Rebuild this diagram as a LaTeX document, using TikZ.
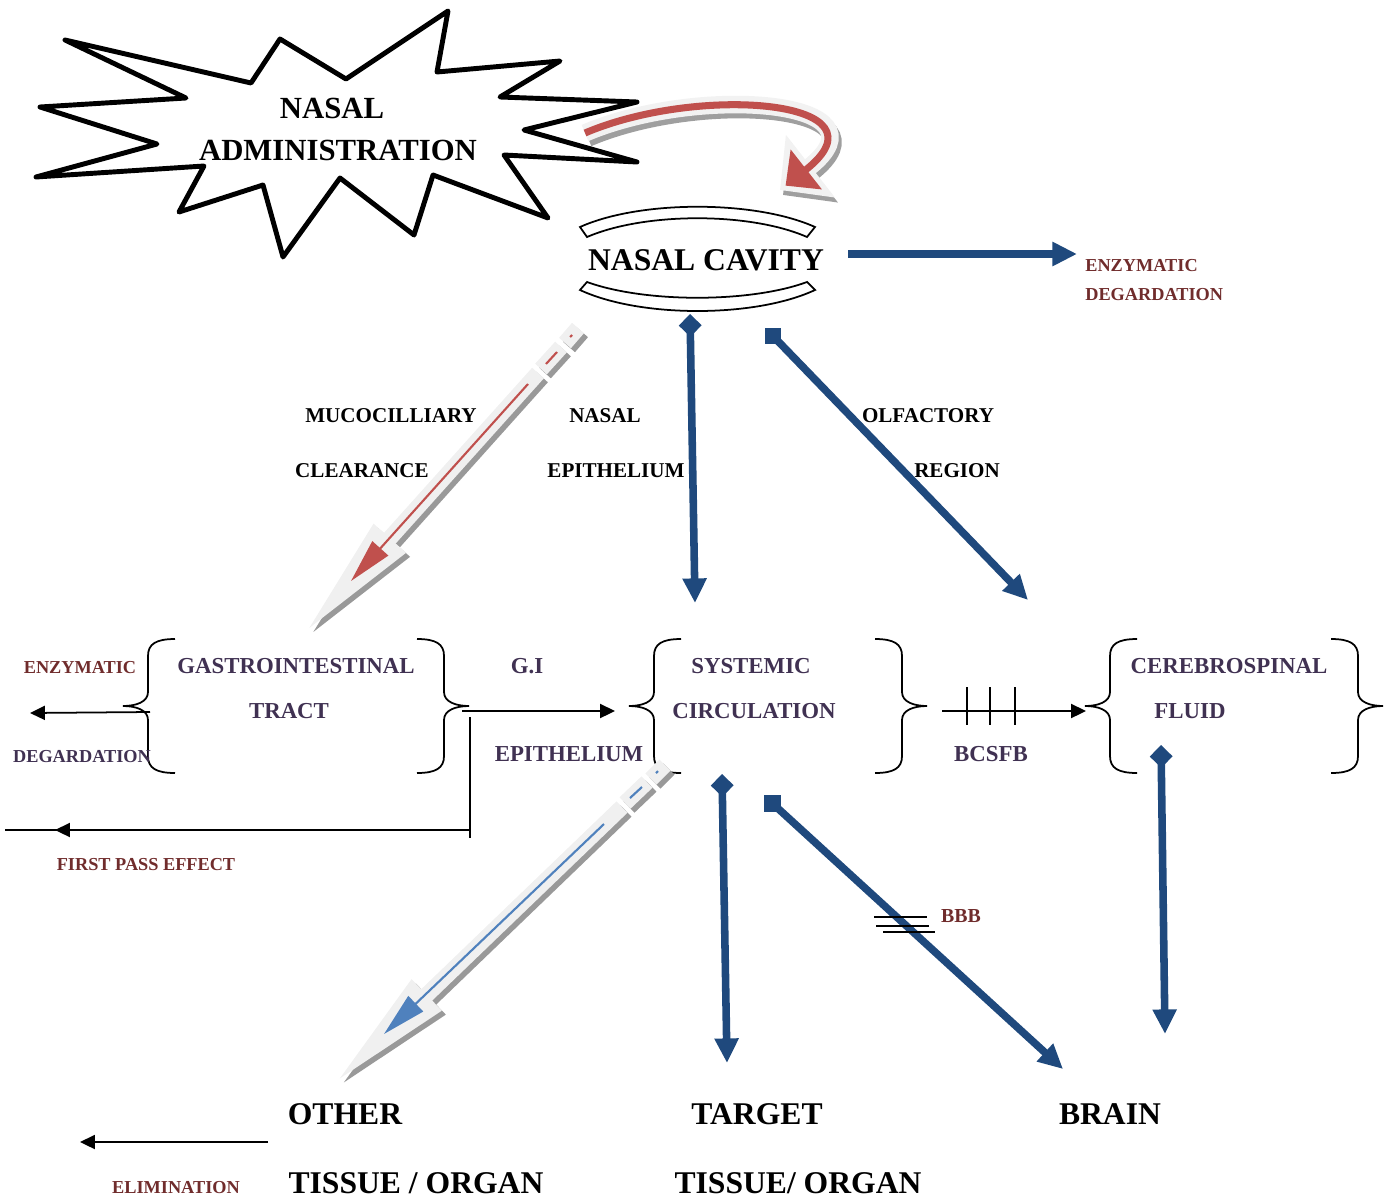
\documentclass[tikz,border=0pt]{standalone}
\usepackage{fontspec}
\setmainfont{Liberation Serif}
\usetikzlibrary{arrows.meta}

\definecolor{arrblue}{RGB}{31,73,125}
\definecolor{txtred}{RGB}{112,44,44}
\definecolor{txtpurple}{RGB}{64,49,82}
\definecolor{curvred}{RGB}{192,80,77}
\definecolor{penblue}{RGB}{79,129,189}

\tikzset{
  txt/.style={inner sep=0pt, text depth=0pt, font=\bfseries\fontsize{12}{14}\selectfont},
  bigtxt/.style={txt, font=\bfseries\fontsize{18}{21}\selectfont},
  startxt/.style={txt, font=\bfseries\fontsize{17.5}{21}\selectfont},
  boxtxt/.style={txt, text=txtpurple, font=\bfseries\fontsize{13}{15}\selectfont},
  redtxt/.style={txt, text=txtred, font=\bfseries\fontsize{10.4}{12}\selectfont},
  blu/.style={draw=arrblue, line width=4.3pt},
  blk/.style={line width=1pt},
  shade/.style={gray!80, line width=9pt},
  pencil/.style={gray!12, line width=9pt},
  bighead/.tip={Triangle[length=14pt,width=13pt]},
  smallhead/.tip={Triangle[length=8.5pt,width=8pt]},
  dtail/.tip={Diamond[length=13pt,width=13pt]},
  penhead/.tip={Triangle[length=74pt,width=22pt]},
  lbrace/.pic={\draw[blk] (27,-67) .. controls (8,-67) and (0,-62) .. (0,-50) -- (0,-14)
     .. controls (0,-4) and (-12,0) .. (-25,0) .. controls (-12,0) and (0,4) .. (0,14)
     -- (0,50) .. controls (0,62) and (8,67) .. (27,67);},
  rbrace/.pic={\draw[blk] (-27,-67) .. controls (-8,-67) and (0,-62) .. (0,-50) -- (0,-14)
     .. controls (0,-4) and (12,0) .. (25,0) .. controls (12,0) and (0,4) .. (0,14)
     -- (0,50) .. controls (0,62) and (-8,67) .. (-27,67);}
}

\begin{document}
\begin{tikzpicture}[x=0.02cm, y=-0.02cm]
\useasboundingbox (0,0) rectangle (1395,1200);

        % curved arrow
        \draw[gray!75, line width=10pt, -{Triangle[length=22pt,width=44pt]}, shift={(3,5)}]
                (585,133) .. controls (700,84) and (895,100) .. (780,190);
        \draw[gray!10, line width=10pt, -{Triangle[length=22pt,width=44pt]}]
                (585,133) .. controls (700,84) and (895,100) .. (780,190);
        \draw[curvred, line width=4pt, -{Triangle[length=15pt,width=28pt]}, shorten >=4pt]
                (585,133) .. controls (700,84) and (895,100) .. (780,190);

        % star
        \draw[line width=2.8pt, line join=round, fill=white] (65,40) -- (251,83) -- (280,39) -- (346,79) -- (448,11)
                -- (437,72) -- (560,61) -- (500,97) -- (637,102) -- (524,130) -- (637,162)
                -- (504,155) -- (548,218) -- (433,175) -- (414,235) -- (340,178) -- (283,257)
                -- (263,185) -- (179,212) -- (204,166) -- (36,177) -- (157,144) -- (40,107)
                -- (186,98) -- cycle;
        \node[startxt] (nasal) at (332,108) {NASAL};
        \node[startxt] (admin) at (338,150) {ADMINISTRATION};

        % nasal cavity
        \draw[blk, fill=white] (580,227) .. controls (640,200) and (755,200) .. (815,227) -- (807,237)
                .. controls (750,212) and (645,212) .. (587,237) -- cycle;
        \draw[blk, fill=white] (580,290) .. controls (640,318) and (755,318) .. (815,290) -- (807,282)
                .. controls (750,303) and (645,303) .. (587,282) -- cycle;
        \node[bigtxt] (cavity) at (706,260) {NASAL CAVITY};

        \node[redtxt, anchor=west] (enz1) at (1085,265) {ENZYMATIC};
        \node[redtxt, anchor=west] (deg1) at (1085,294) {DEGARDATION};
        \coordinate (cavR) at (848,254);
        \coordinate (enzR) at (1077,254);
        \draw[blu, -bighead] (cavR) -- (enzR);

        % mucociliary clearance
        \foreach \a/\b in {{(578,328)}/{(565,343)}, {(561,347)}/{(541,369)}}
        {
                \draw[shade, shift={(4,4)}] \a -- \b;
                \draw[pencil] \a -- \b;
        }
        \draw[shade, -penhead, shift={(4,4)}] (538,373) -- (303,635);
        \draw[pencil, -penhead] (538,373) -- (303,635);
        \draw[curvred, line width=1.2pt] (557,352) -- (546,364);
        \draw[curvred, line width=1.2pt] (572,335) -- (570,337);
        \draw[curvred, line width=1.2pt, -{Triangle[length=25pt,width=12pt]}] (528,384) -- (351,581);
        \node[txt] (muco) at (391,416) {MUCOCILLIARY};
        \node[txt] (clear) at (362,471) {CLEARANCE};

        % nasal epithelium
        \coordinate (epiA) at (690,314);
        \coordinate (epiB) at (695,603);
        \draw[blu, dtail-bighead] (epiA) -- (epiB);
        \node[txt] (nas2) at (605,416) {NASAL};
        \node[txt] (epi1) at (616,471) {EPITHELIUM};

        % olfactory region
        \coordinate (olfA) at (773,336);
        \coordinate (olfB) at (1028,600);
        \fill[arrblue] (olfA) +(-8,-8) rectangle +(8,8);
        \draw[blu, -bighead] (olfA) -- (olfB);
        \node[txt] (olf) at (928,416) {OLFACTORY};
        \node[txt] (reg) at (957,471) {REGION};

        % braces
        \pic at (148,706) {lbrace};
        \pic at (444,706) {rbrace};
        \pic at (654,706) {lbrace};
        \pic at (902,706) {rbrace};
        \pic at (1110,706) {lbrace};
        \pic at (1358,706) {rbrace};

        \node[boxtxt] (gastro) at (296,666) {GASTROINTESTINAL};
        \node[boxtxt] (tract) at (289,711) {TRACT};
        \node[boxtxt] (syst) at (751,666) {SYSTEMIC};
        \node[boxtxt] (circ) at (754,711) {CIRCULATION};
        \node[boxtxt] (cereb) at (1229,666) {CEREBROSPINAL};
        \node[boxtxt] (fluid) at (1190,711) {FLUID};
        \node[boxtxt] (gi) at (527,666) {G.I};
        \node[boxtxt] (epi2) at (569,754) {EPITHELIUM};
        \node[boxtxt] (bcsfb) at (991,754) {BCSFB};

        \node[redtxt] (enz2) at (80,667) {ENZYMATIC};
        \node[redtxt, text=txtpurple] (deg2) at (82,756) {DEGARDATION};
        \coordinate (giL) at (150,712);
        \coordinate (enzL) at (30,713);
        \draw[blk, -smallhead] (giL) -- (enzL);

        \coordinate (giR) at (462,711);
        \coordinate (sysL) at (615,711);
        \draw[blk, -smallhead] (giR) -- (sysL);

        % first pass
        \coordinate (fpTop) at (470,717);
        \coordinate (fpBot) at (470,838);
        \coordinate (fpCorner) at (470,830);
        \coordinate (fpEnd) at (5,830);
        \coordinate (fpTip) at (55,830);
        \draw[blk] (fpTop) -- (fpBot);
        \draw[blk] (fpCorner) -- (fpEnd);
        \draw[blk, -smallhead] (192,830) -- (fpTip);
        \node[redtxt] (fpe) at (146,864) {FIRST PASS EFFECT};

        % bcsfb
        \coordinate (sysR) at (942,711);
        \coordinate (csfL) at (1086,711);
        \draw[blk, -smallhead] (sysR) -- (csfL);
        \foreach \x in {967, 990, 1015}
        {
                \draw[blk] (\x,687) -- (\x,725);
        }

        % other tissue
        \foreach \a/\b in {{(665,765)}/{(651,779)}, {(647,782)}/{(625,803)}}
        {
                \draw[shade, shift={(4,4)}] \a -- \b;
                \draw[pencil] \a -- \b;
        }
        \draw[shade, -penhead, shift={(4,4)}] (622,807) -- (333,1085);
        \draw[pencil, -penhead] (622,807) -- (333,1085);
        \draw[penblue, line width=1.2pt] (642,787) -- (630,798);
        \draw[penblue, line width=1.2pt] (658,771) -- (656,773);
        \draw[penblue, line width=1.2pt, -{Triangle[length=25pt,width=12pt]}] (604,824) -- (384,1034);

        % target and brain
        \coordinate (tgtA) at (722,774);
        \coordinate (tgtB) at (727,1063);
        \draw[blu, dtail-bighead] (tgtA) -- (tgtB);
        \coordinate (brA) at (772,803);
        \coordinate (brB) at (1063,1069);
        \fill[arrblue] (brA) +(-8.5,-8.5) rectangle +(8.5,8.5);
        \draw[blu, -bighead] (brA) -- (brB);
        \coordinate (csfA) at (1161,745);
        \coordinate (csfB) at (1165,1034);
        \draw[blu, dtail-bighead] (csfA) -- (csfB);

        \draw[blk] (874,917) -- (927,917);
        \draw[blk] (876,926) -- (929,926);
        \draw[blk] (883,932) -- (935,932);
        \node[redtxt, font=\bfseries\fontsize{11.3}{13}\selectfont] (bbb) at (961,916) {BBB};

        \node[bigtxt] (other) at (345,1114) {OTHER};
        \node[bigtxt] (tis1) at (416,1183) {TISSUE / ORGAN};
        \node[bigtxt] (target) at (757,1114) {TARGET};
        \node[bigtxt] (tis2) at (798,1183) {TISSUE/ ORGAN};
        \node[bigtxt] (brain) at (1110,1114) {BRAIN};

        \coordinate (elimA) at (268,1142);
        \coordinate (elimB) at (80,1142);
        \draw[blk, -smallhead] (elimA) -- (elimB);
        \node[redtxt] (elim) at (176,1187) {ELIMINATION};

\end{tikzpicture}
\end{document}
